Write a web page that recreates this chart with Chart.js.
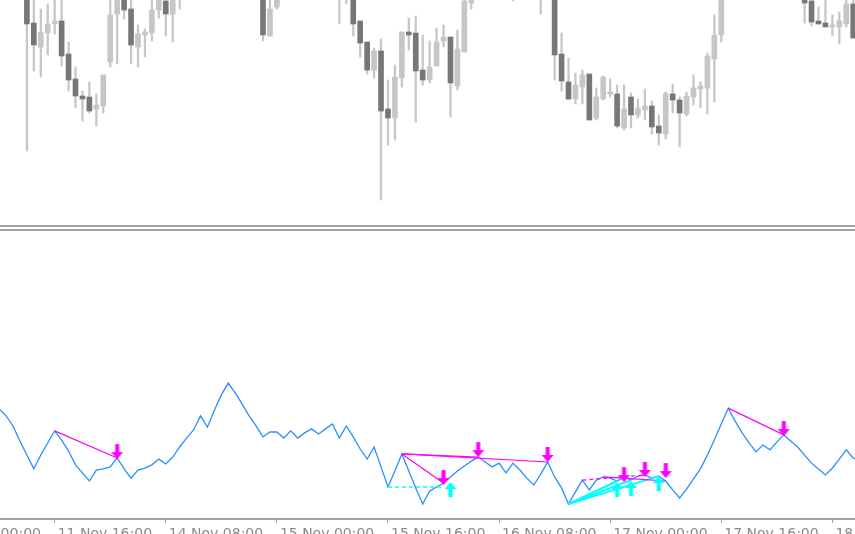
<!DOCTYPE html>
<html lang="en">
<head>
  <meta charset="UTF-8">
  <title>EURUSD H1 divergence</title>
  <script src="https://cdn.jsdelivr.net/npm/chart.js"></script>
  <style>
    html, body { margin: 0; padding: 0; background: #fff; overflow: hidden; }
    #page { position: relative; width: 855px; height: 534px; overflow: hidden; background: #fff; }
    .pane { position: absolute; left: -80px; }
    #priceChart { top: 0; }
    #oscChart { top: 231px; }
    .sep { position: absolute; left: 0; width: 855px; height: 2px; background: #a3a3a3; }
  </style>
</head>
<body>
  <div id="page">
    <canvas id="priceChart" class="pane" width="1080" height="226"></canvas>
    <div class="sep" style="top:225px"></div>
    <div class="sep" style="top:229px"></div>
    <canvas id="oscChart" class="pane" width="1080" height="308"></canvas>
  </div>

  <script>
    // свечи (только видимые в окне), индекс бара и цены
    const candleBar = [0,1,2,3,4,5,6,7,8,9,10,11,12,13,14,15,16,17,18,19,20,21,22,
      34,35,36,
      45,46,47,48,49,50,51,52,53,54,55,56,57,58,59,60,61,62,63,64,
      70,74,
      76,77,78,79,80,81,82,83,84,85,86,87,88,89,90,91,92,93,94,95,96,97,98,99,100,
      112,113,114,115,116,117,118,119];
    const candleOpen = [1.0465,1.0427,1.0403,1.0417,1.0426,1.0429,1.0396,1.0371,1.0354,1.0353,1.0341,1.0344,1.0388,1.0436,1.0455,1.0441,1.0403,1.0415,1.0417,1.0440,1.0449,1.0436,1.0458,
      1.0455,1.0414,1.0443,
      1.0460,1.0470,1.0458,1.0429,1.0408,1.0380,1.0399,1.0341,1.0332,1.0372,1.0418,1.0417,1.0380,1.0370,1.0384,1.0409,1.0413,1.0364,1.0398,1.0447,
      1.0460,1.0465,
      1.0455,1.0396,1.0368,1.0351,1.0363,1.0376,1.0332,1.0351,1.0356,1.0356,1.0322,1.0353,1.0335,1.0340,1.0344,1.0324,1.0316,1.0356,1.0350,1.0336,1.0353,1.0361,1.0362,1.0391,1.0415,
      1.0455,1.0449,1.0429,1.0427,1.0423,1.0423,1.0426,1.0446];
    const candleHigh = [1.0470,1.0455,1.0441,1.0446,1.0453,1.0452,1.0408,1.0383,1.0359,1.0368,1.0356,1.0375,1.0453,1.0465,1.0460,1.0453,1.0425,1.0421,1.0453,1.0460,1.0454,1.0460,1.0470,
      1.0460,1.0453,1.0460,
      1.0475,1.0475,1.0460,1.0429,1.0408,1.0402,1.0411,1.0370,1.0385,1.0418,1.0432,1.0434,1.0415,1.0409,1.0422,1.0425,1.0413,1.0420,1.0453,1.0462,
      1.0475,1.0470,
      1.0460,1.0417,1.0392,1.0377,1.0380,1.0376,1.0362,1.0374,1.0371,1.0365,1.0365,1.0357,1.0351,1.0361,1.0349,1.0335,1.0358,1.0366,1.0353,1.0358,1.0375,1.0368,1.0397,1.0435,1.0460,
      1.0460,1.0453,1.0443,1.0453,1.0435,1.0438,1.0453,1.0453];
    const candleLow = [1.0299,1.0379,1.0373,1.0395,1.0416,1.0384,1.0359,1.0342,1.0329,1.0337,1.0324,1.0337,1.0383,1.0386,1.0431,1.0386,1.0383,1.0393,1.0409,1.0432,1.0414,1.0408,1.0441,
      1.0409,1.0414,1.0441,
      1.0426,1.0446,1.0414,1.0393,1.0376,1.0372,1.0250,1.0305,1.0310,1.0363,1.0400,1.0328,1.0365,1.0367,1.0384,1.0403,1.0333,1.0360,1.0398,1.0441,
      1.0449,1.0436,
      1.0370,1.0359,1.0350,1.0346,1.0346,1.0330,1.0330,1.0350,1.0353,1.0322,1.0320,1.0322,1.0332,1.0330,1.0316,1.0305,1.0311,1.0337,1.0303,1.0334,1.0345,1.0342,1.0336,1.0348,1.0408,
      1.0427,1.0424,1.0426,1.0423,1.0414,1.0406,1.0423,1.0412];
    const candleClose = [1.0426,1.0405,1.0418,1.0426,1.0429,1.0394,1.0370,1.0354,1.0351,1.0339,1.0345,1.0375,1.0435,1.0458,1.0440,1.0405,1.0416,1.0418,1.0440,1.0455,1.0436,1.0456,1.0465,
      1.0415,1.0441,1.0455,
      1.0470,1.0460,1.0426,1.0407,1.0380,1.0399,1.0339,1.0332,1.0373,1.0418,1.0415,1.0379,1.0370,1.0383,1.0408,1.0413,1.0367,1.0401,1.0449,1.0458,
      1.0470,1.0458,
      1.0395,1.0369,1.0351,1.0365,1.0375,1.0330,1.0353,1.0373,1.0358,1.0324,1.0341,1.0335,1.0342,1.0344,1.0323,1.0317,1.0356,1.0350,1.0337,1.0354,1.0362,1.0364,1.0394,1.0415,1.0455,
      1.0447,1.0428,1.0426,1.0423,1.0425,1.0429,1.0446,1.0412];

    // осциллятор: значения по барам, начиная с бара -4
    const oscFirstBar = -4;
    const oscValues = [
      38.2,35.8,32.3,27.1,22.2,17.4,22.2,26.4,30.6,27.4,
      23.6,18.8,16.0,13.2,17.0,17.4,18.1,21.2,17.4,14.2,
      17.0,17.7,18.8,20.8,19.1,21.5,25.0,28.1,30.9,35.8,
      31.9,37.8,43.1,47.2,43.8,39.9,35.8,32.3,28.5,30.2,
      30.2,28.1,30.6,28.1,29.9,31.3,29.5,31.3,33.0,28.1,
      32.3,28.5,24.3,20.8,25.0,18.1,11.1,16.7,22.6,16.7,
      10.8,5.2,9.7,11.1,12.5,14.6,16.7,18.4,20.1,21.5,
      19.8,18.1,19.4,16.0,19.4,17.0,14.2,11.8,15.6,19.8,
      14.6,10.8,5.2,9.4,13.5,10.1,13.5,14.6,14.2,13.2,
      14.6,13.5,14.9,15.3,14.2,14.9,13.2,10.1,7.3,10.4,
      13.9,17.4,22.2,27.4,33.0,38.5,34.0,29.9,26.4,23.3,
      25.7,24.0,26.7,29.2,27.1,25.0,22.2,19.4,17.4,15.3,
      17.7,20.8,24.0,21.2,19.8
    ];

    // линии дивергенций: [бар1, значение1, бар2, значение2]
    const bearLines = [[4,30.6,13,21.2],[54,22.6,60,12.5],[54,22.6,65,21.5],[54,22.6,75,19.8],[83,14.6,92,13.2],[101,38.5,109,29.2]];
    const bearDashed = [[80,13.5,89,15.3]];
    const bullLines = [[78,5.2,85,13.2],[78,5.2,87,13.5],[78,5.2,91,14.9]];
    const bullDashed = [[52,11.1,60,11.1]];

    // стрелки сигналов
    const sellBars = [13,60,65,75,86,89,92,109];
    const sellValues = [20.8,11.8,21.5,19.8,12.8,14.6,14.2,28.8];
    const buyBars = [61,85,87,91];
    const buyValues = [12.8,12.8,13.2,14.9];

    // метки времени по оси X
    const tickBars = [-12,4,20,36,52,68,84,100,116];
    const tickLabels = ['11 Nov 00:00','11 Nov 16:00','14 Nov 08:00','15 Nov 00:00','15 Nov 16:00',
      '16 Nov 08:00','17 Nov 00:00','17 Nov 16:00','18 Nov 08:00'];

    // геометрия окна: шаг бара и положение бара 0
    const barSpacing = 111.1 / 16;
    const bar0Px = 26.9;
    const paneLeft = -80, paneWidth = 1080;
    const xMin = (paneLeft - bar0Px) / barSpacing;
    const xMax = (paneLeft + paneWidth - bar0Px) / barSpacing;

    const bullColor = '#c6c6c6';
    const bearColor = '#777777';
    const magenta = '#ff00ff';
    const cyan = '#00ffff';

    function xScale(extra) {
      return Object.assign({
        type: 'linear', min: xMin, max: xMax, offset: false,
        display: false, grid: { display: false, offset: false }
      }, extra || {});
    }

    // ---- верхняя панель: свечи ----
    const isBull = candleBar.map((b, k) => candleClose[k] >= candleOpen[k]);
    new Chart(document.getElementById('priceChart'), {
      type: 'bar',
      data: {
        datasets: [
          {
            label: 'body',
            data: candleBar.map((b, k) => ({ x: b, y: [candleOpen[k], candleClose[k]] })),
            backgroundColor: isBull.map(u => u ? bullColor : bearColor),
            barThickness: 5,
            grouped: false,
            borderSkipped: false,
            clip: 0
          },
          {
            label: 'wick',
            data: candleBar.map((b, k) => ({ x: b, y: [candleLow[k], candleHigh[k]] })),
            backgroundColor: bullColor,
            barThickness: 1.6,
            grouped: false,
            borderSkipped: false,
            clip: 0
          }
        ]
      },
      options: {
        responsive: false,
        animation: false,
        layout: { padding: 0, autoPadding: false },
        plugins: { legend: { display: false }, tooltip: { enabled: false } },
        scales: {
          x: xScale(),
          y: { type: 'linear', min: 1.0224, max: 1.0450, display: false }
        }
      }
    });

    // ---- нижняя панель: осциллятор ----
    // стрелка: остриё в центре картинки, чтобы попадать точно в значение
    function arrowImg(color, up) {
      const c = document.createElement('canvas');
      c.width = 13; c.height = 32;
      const g = c.getContext('2d');
      g.fillStyle = color;
      g.beginPath();
      if (!up) {
        g.moveTo(4.5, 1); g.lineTo(8.5, 1); g.lineTo(8.5, 9); g.lineTo(12.5, 9);
        g.lineTo(6.5, 16); g.lineTo(0.5, 9); g.lineTo(4.5, 9);
      } else {
        g.moveTo(6.5, 16); g.lineTo(12.5, 23); g.lineTo(8.5, 23); g.lineTo(8.5, 31);
        g.lineTo(4.5, 31); g.lineTo(4.5, 23); g.lineTo(0.5, 23);
      }
      g.closePath();
      g.fill();
      return c;
    }

    function segSet(seg, color, dashed, width) {
      return {
        data: [{ x: seg[0], y: seg[1] }, { x: seg[2], y: seg[3] }],
        borderColor: color, borderWidth: width || 1.2, pointRadius: 0,
        borderDash: dashed ? [4, 3] : [], tension: 0
      };
    }

    const oscDatasets = [
      {
        label: 'sell',
        data: sellBars.map((b, k) => ({ x: b, y: sellValues[k] })),
        showLine: false, pointStyle: arrowImg(magenta, false), pointRadius: 8
      },
      {
        label: 'buy',
        data: buyBars.map((b, k) => ({ x: b, y: buyValues[k] })),
        showLine: false, pointStyle: arrowImg(cyan, true), pointRadius: 8
      }
    ]
      .concat(bearLines.map(s => segSet(s, magenta, false)))
      .concat(bearDashed.map(s => segSet(s, magenta, true)))
      .concat(bullLines.map(s => segSet(s, cyan, false, 2)))
      .concat(bullDashed.map(s => segSet(s, cyan, true, 1.5)))
      .concat([{
        label: 'osc',
        data: oscValues.map((v, k) => ({ x: oscFirstBar + k, y: v })),
        borderColor: '#2a8fff', borderWidth: 1.3, pointRadius: 0, tension: 0
      }]);

    new Chart(document.getElementById('oscChart'), {
      type: 'line',
      data: { datasets: oscDatasets },
      options: {
        responsive: false,
        animation: false,
        layout: { padding: 0, autoPadding: false },
        plugins: { legend: { display: false }, tooltip: { enabled: false } },
        scales: {
          x: xScale({
            display: true,
            position: 'bottom',
            border: { display: true, color: '#a0a0a0', width: 2 },
            grid: { display: true, drawOnChartArea: false, drawTicks: true, tickLength: 4, color: '#a0a0a0', offset: false },
            afterBuildTicks: s => { s.ticks = tickBars.map(v => ({ value: v })); },
            afterFit: s => { s.height = 20; },
            ticks: {
              autoSkip: false, maxRotation: 0, align: 'start', labelOffset: 3, padding: 3,
              color: '#8a8a8a', font: { family: 'DejaVu Sans', size: 14 },
              callback: (v, i) => tickLabels[i]
            }
          }),
          y: { type: 'linear', min: 0, max: 100, display: false }
        }
      }
    });
  </script>
</body>
</html>
